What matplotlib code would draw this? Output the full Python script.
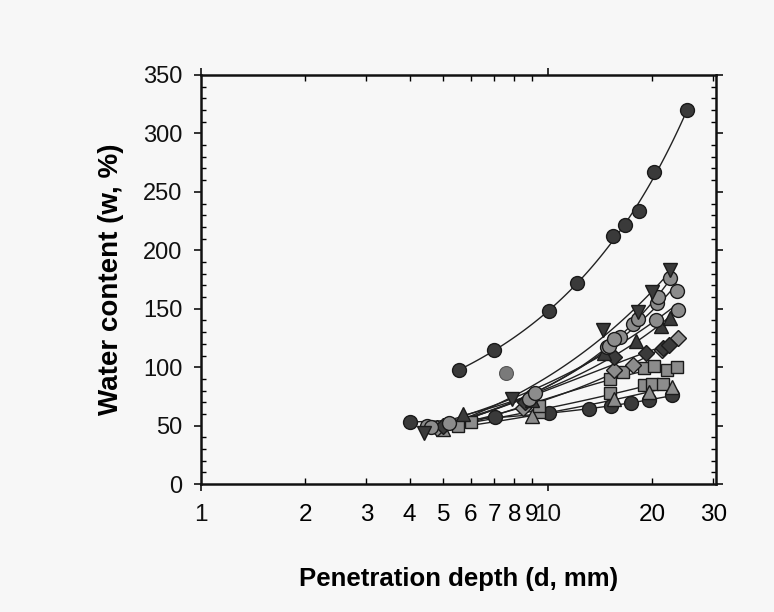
import numpy as np
import matplotlib
matplotlib.use("Agg")
import matplotlib.pyplot as plt

# top series (dark circles)
d_top = [5.53, 7.02, 10.1, 12.1, 15.4, 16.7, 18.3, 20.2, 25.2]
w_top = [97.5, 114.6, 148, 172, 212, 222, 234, 267, 320]

# lone grey point
d_odd = [7.6]
w_odd = [95]

# cluster series
d_a = [4.0, 7.05, 10.1, 13.1, 15.2, 17.35, 19.6, 22.8]
w_a = [53, 57, 61, 64, 67, 69.5, 72, 76]
d_b = [6.0, 9.4, 15.1, 18.9, 20.0, 21.5]
w_b = [53, 62, 78, 84.7, 85.5, 86]
d_b2 = [5.0, 9.0, 15.5, 19.5, 22.8]
w_b2 = [47, 58, 73, 79, 83]
d_c = [5.5, 9.4, 15.1, 16.5, 18.9, 20.2, 22.0, 23.5]
w_c = [50, 67, 90, 96, 99, 101, 97.5, 100]
d_d = [4.8, 8.5, 15.5, 17.6, 21.3, 23.7]
w_d = [48, 65, 98, 102, 115, 125]
d_e = [5.0, 8.6, 15.5, 19.2, 21.5, 22.4]
w_e = [50, 70, 109, 112, 116, 119]
d_f = [5.7, 9.0, 14.5, 18.0, 21.2, 22.5]
w_f = [60, 72, 112, 122, 135, 142]
d_g = [4.5, 9.0, 14.8, 16.1, 20.5, 23.7]
w_g = [50, 75, 117, 126, 140, 149]
d_h = [5.2, 8.8, 15.0, 17.6, 20.6, 23.5]
w_h = [52, 73, 118, 137, 155, 165]
d_i = [4.6, 9.2, 15.5, 18.2, 20.8, 22.5]
w_i = [49, 78, 124, 141, 160, 176]
d_j = [4.4, 7.9, 14.4, 18.2, 19.9, 22.5]
w_j = [44, 73, 132, 147, 164.5, 183]

dark = '#3a3a3a'
grey = '#8c8c8c'

series = [
    (d_a, w_a, 'o', dark),
    (d_b, w_b, 's', grey),
    (d_b2, w_b2, '^', grey),
    (d_c, w_c, 's', grey),
    (d_d, w_d, 'D', grey),
    (d_e, w_e, 'D', dark),
    (d_f, w_f, '^', dark),
    (d_g, w_g, 'o', grey),
    (d_h, w_h, 'o', grey),
    (d_i, w_i, 'o', grey),
    (d_j, w_j, 'v', dark),
    (d_top, w_top, 'o', dark),
]

bg = '#f7f7f7'
fig = plt.figure(figsize=(7.74, 6.12), dpi=100, facecolor=bg)
ax = fig.add_axes([0.2593, 0.209, 0.6657, 0.6685], facecolor=bg)

def fit_line(d, w):
    # quadratic in log-log
    p = np.polyfit(np.log(d), np.log(w), 2)
    xs = np.logspace(np.log10(min(d)), np.log10(max(d)), 100)
    return xs, np.exp(np.polyval(p, np.log(xs)))

for d, w, m, c in series:
    xs, ys = fit_line(d, w)
    ax.plot(xs, ys, color='#222222', lw=1.0, zorder=2)

for d, w, m, c in series:
    ms = 8.5 if m in ('s', 'D') else 10
    ax.plot(d, w, ls='none', marker=m, ms=ms, mfc=c, mec='#1a1a1a', mew=1.0, zorder=3)

ax.plot(d_odd, w_odd, ls='none', marker='o', ms=10, mfc='#7a7a7a', mec='#555555', mew=0.8, zorder=3)

ax.set_xscale('log')
ax.set_xlim(1, 30.5)
ax.set_ylim(0, 350)

reg = ['Liberation Sans', 'DejaVu Sans']

ax.set_xticks([1, 10])
ax.set_xticklabels(['1', '10'], family=reg, fontsize=17.5)
minor_x = [2, 3, 4, 5, 6, 7, 8, 9, 20, 30]
ax.set_xticks(minor_x, minor=True)
ax.set_xticklabels([str(v) for v in minor_x], minor=True, family=reg, fontsize=17.5)

ax.set_yticks(np.arange(0, 351, 50))
ax.set_yticklabels([str(v) for v in range(0, 351, 50)], family=reg, fontsize=17)
ax.set_yticks(np.arange(0, 351, 10), minor=True)

ax.tick_params(axis='x', which='major', direction='out', length=5, width=1.2, pad=9, top=True)
ax.tick_params(axis='x', which='minor', direction='in', length=4, width=1.0, pad=14, top=True)
ax.tick_params(axis='y', which='major', direction='out', length=5, width=1.2, pad=8, right=True)
ax.tick_params(axis='y', which='minor', direction='in', length=3.5, width=1.0, right=True)
ax.tick_params(colors='#111111')

for s in ax.spines.values():
    s.set_linewidth(1.8)
    s.set_color('#111111')

ax.set_xlabel('Penetration depth (d, mm)', family=reg, fontsize=18.5, fontweight='bold', labelpad=30)
ax.set_ylabel('Water content (w, %)', family=reg, fontsize=20, fontweight='bold', labelpad=14)

fig.savefig('out.png', dpi=100, facecolor=bg)
